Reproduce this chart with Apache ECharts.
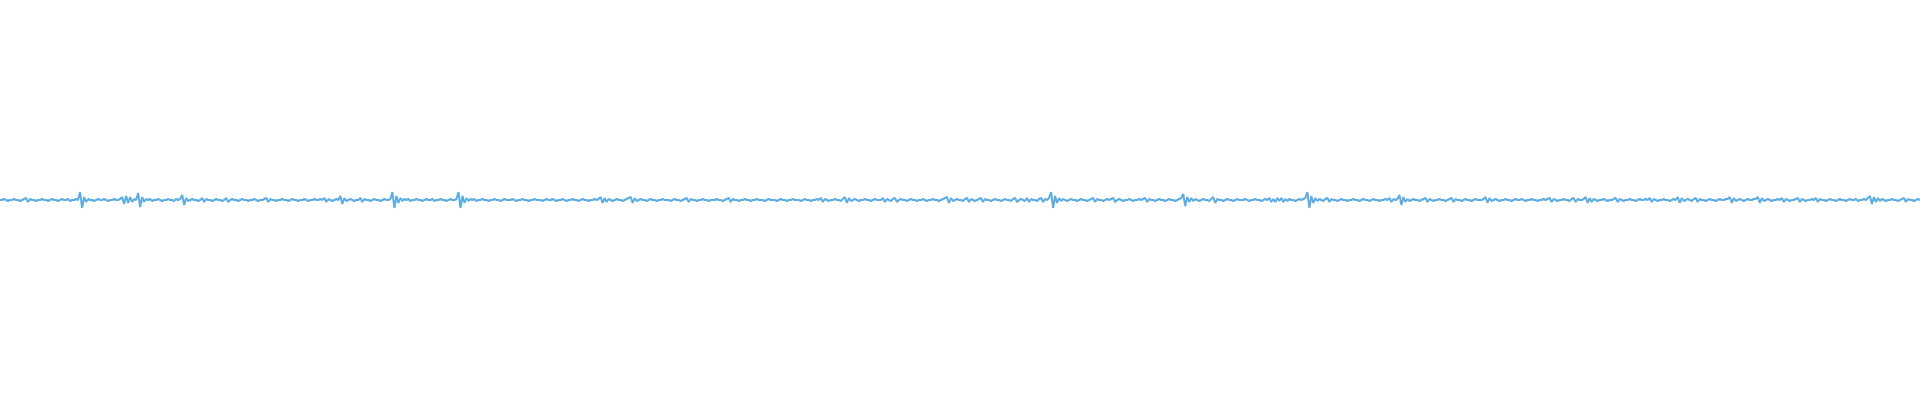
<!DOCTYPE html>
<html>
<head>
<meta charset="utf-8">
<script src="https://cdn.jsdelivr.net/npm/echarts@6/dist/echarts.min.js"></script>
<style>html,body{margin:0;padding:0;background:#fff}#c{width:1920px;height:400px}</style>
</head>
<body>
<div id="c"></div>
<script>
// waveform amplitude samples
const amplitude = [
0,0,1,0,-1,0,0,1,0,0,-1,0,1,2,-2,1,0,0,-1,0,0,1,0,0,-1,0,1,0,0,-1,0,1,0,0,1,-1,0,0,1,0,
8,-8,3,-2,1,0,0,-1,0,1,0,0,1,0,-1,0,0,1,0,0,1,3,-4,4,-3,3,-2,1,0,7,-7,3,-2,1,0,1,-1,0,0,1,
0,-1,0,0,1,0,0,-1,1,0,1,5,-5,2,-1,0,1,0,0,-1,0,2,-2,1,0,0,-1,0,1,0,0,-1,0,2,-2,0,1,0,0,-1,
0,1,0,0,-1,0,0,1,0,-1,0,0,1,2,-2,1,0,0,-1,0,0,1,0,0,-1,0,1,0,0,-1,0,0,1,0,-1,0,0,1,0,0,
1,0,2,-2,1,0,-1,0,1,0,4,-4,2,-1,0,1,0,-1,0,0,2,-2,1,0,0,-1,0,1,0,0,-1,0,1,0,0,1,8,-8,4,-3,
2,-1,1,0,1,-1,0,0,1,0,0,-1,0,1,0,0,1,-1,0,0,1,0,0,-1,0,1,0,0,1,8,-8,4,-3,2,-1,1,0,1,-1,0,
0,1,0,0,-1,0,0,1,0,0,-1,0,1,0,0,0,1,0,-1,0,0,1,0,0,-1,0,0,1,0,0,0,-1,0,1,0,0,1,0,-1,0,
0,1,0,-1,0,0,1,0,0,-1,0,1,0,0,-1,0,0,1,0,1,3,-3,2,-2,1,0,-1,0,1,0,0,-1,0,1,2,3,-3,2,-1,0,
1,0,0,-1,0,1,0,0,-1,0,0,1,0,0,0,-1,0,1,0,0,-1,0,1,2,-2,1,0,0,-1,0,0,1,0,0,-1,0,0,0,1,0,
0,-1,0,1,2,-2,1,0,0,-1,0,0,1,0,0,-1,0,0,1,0,0,0,-1,0,1,0,0,0,-1,0,1,0,0,-1,0,0,1,0,0,0,
-1,0,1,0,0,-1,0,0,1,0,2,-2,1,0,-1,0,0,1,0,0,-1,1,3,-3,2,-1,0,1,0,-1,0,0,1,0,0,-1,0,1,0,0,
0,2,-2,1,0,-1,1,2,-2,0,1,0,0,-1,0,1,0,0,-1,0,0,1,0,-1,0,0,1,0,0,-1,0,1,2,3,-3,2,-1,0,1,0,
0,-1,1,2,-2,1,0,-1,0,1,2,-2,1,0,0,-1,0,1,0,0,-1,0,1,0,0,-1,1,2,-2,0,1,0,-1,2,-2,1,0,0,-1,1,
2,-2,1,0,2,8,-8,4,-3,2,-1,1,0,-1,0,1,0,0,-1,0,1,0,0,-1,0,1,2,-2,1,0,0,-1,0,1,0,1,2,-2,0,1,
0,-1,0,0,1,0,-1,0,0,1,0,1,2,-2,1,0,0,-1,0,1,0,0,-1,0,1,0,0,-1,0,1,2,6,-6,3,-2,2,-1,1,0,-1,
0,1,0,0,-1,1,3,-3,1,0,0,-1,0,1,0,0,-1,0,1,0,0,0,1,0,-1,0,0,1,0,0,-1,0,1,0,2,-2,1,-2,2,-1,
2,-2,1,-1,1,0,0,-1,0,1,0,1,2,8,-8,4,-3,2,-1,1,0,-1,1,2,-2,1,0,0,-1,0,1,0,0,-1,0,0,1,0,0,-1,
0,1,0,0,-1,0,1,0,0,-1,0,0,1,0,2,-2,1,0,1,5,-5,3,-2,1,-1,0,1,0,0,-1,0,1,2,-2,1,0,-1,0,0,1,
0,0,-1,0,1,2,-2,1,0,0,-1,0,1,0,0,-1,0,1,0,0,0,1,3,-3,2,-1,0,1,0,-1,0,0,1,0,0,-1,0,1,0,0,
1,0,-1,0,0,1,0,0,-1,0,0,1,0,1,2,-2,1,0,-1,0,0,1,0,0,-1,1,2,-2,1,0,0,1,3,-3,2,-2,1,0,-1,0,
0,1,0,-1,0,0,1,2,-2,1,0,-1,0,0,1,0,0,-1,0,1,0,0,1,0,2,-2,1,0,-1,0,0,1,0,0,-1,0,1,0,3,-3,
2,-1,0,1,0,-1,1,2,-2,1,0,0,-1,0,1,0,0,-1,0,1,0,0,1,1,3,-3,2,-1,0,1,0,-1,0,1,0,0,1,1,3,-3,
2,-1,0,1,0,-1,0,0,1,0,2,-2,1,0,-1,0,0,1,2,-2,1,0,-1,0,0,1,0,2,-2,1,0,0,-1,0,1,0,0,-1,0,1,
0,0,-1,0,1,0,0,1,-1,0,0,1,0,2,4,-4,3,-2,2,-1,1,0,-1,0,0,1,0,0,-1,0,1,2,-2,1,0,0,-1,0,1,0
];
const sampleIndex = amplitude.map((_, i) => i);
const yMin = -200, yMax = 200;

const chart = echarts.init(document.getElementById('c'), null, {renderer: 'canvas'});
chart.setOption({
  animation: false,
  backgroundColor: '#ffffff',
  grid: {left: 0, right: 0, top: 0, bottom: 0},
  xAxis: {type: 'category', data: sampleIndex, boundaryGap: false, show: false},
  yAxis: {type: 'value', min: yMin, max: yMax, show: false},
  series: [{
    type: 'line',
    data: amplitude,
    showSymbol: false,
    symbol: 'none',
    lineStyle: {color: '#5dade2', width: 2},
    itemStyle: {color: '#5dade2'}
  }]
});
</script>
</body>
</html>
